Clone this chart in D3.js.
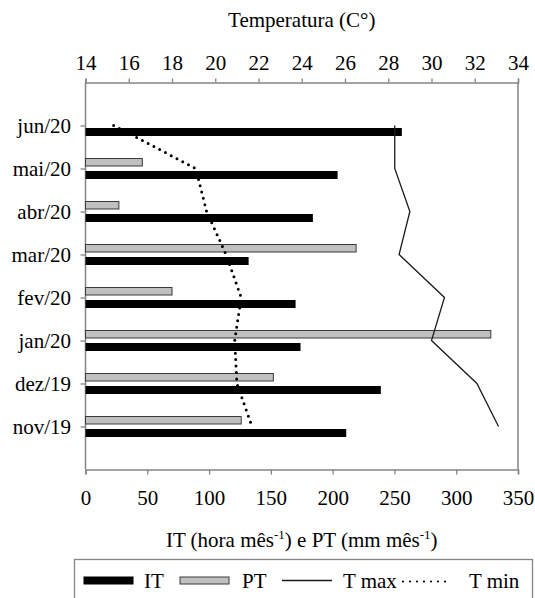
<!DOCTYPE html>
<html>
<head>
<meta charset="utf-8">
<script src="https://cdn.jsdelivr.net/npm/d3@7"></script>
<style>
  html, body { margin: 0; padding: 0; background: #fff; }
</style>
</head>
<body>
<svg id="chart" width="535" height="598"></svg>
<script>
const categories = ["jun/20", "mai/20", "abr/20", "mar/20", "fev/20", "jan/20", "dez/19", "nov/19"];
const itValues   = [256, 204, 184, 132, 170, 174, 239, 211];
const ptValues   = [0, 46, 27, 219, 70, 328, 152, 126];
const tMax       = [28.3, 28.3, 29.0, 28.5, 30.6, 30.0, 32.1, 33.1];
const tMin       = [15.3, 19.1, 19.6, 20.5, 21.2, 20.9, 21.0, 21.7];
const bottomTicks = [0, 50, 100, 150, 200, 250, 300, 350];
const topTicks    = [14, 16, 18, 20, 22, 24, 26, 28, 30, 32, 34];

const svg = d3.select("#chart");
const L = 85.5, R = 518, T = 82.5, B = 469.5;
const step = (B - T) / 9;
const axisColor = "#858585";
const fs = 21;

const x  = d3.scaleLinear().domain([0, 350]).range([L, R]);
const xT = d3.scaleLinear().domain([14, 34]).range([L, R]);
const y  = d3.scalePoint().domain(categories).range([T + step, B - step]);

// frame
svg.append("line").attr("x1", R).attr("x2", R).attr("y1", T).attr("y2", B)
  .attr("stroke", axisColor).attr("stroke-width", 1.5);

function styleAxis(g, fam) {
  g.attr("font-family", fam).attr("font-size", fs);
  g.selectAll("path.domain").attr("stroke", axisColor).attr("stroke-width", 1.5);
  g.selectAll(".tick line").attr("stroke", axisColor).attr("stroke-width", 1.3);
}

const gTop = svg.append("g").attr("transform", `translate(0,${T})`)
  .call(d3.axisTop(xT).tickValues(topTicks).tickSize(4).tickSizeOuter(4).tickPadding(8.5).tickFormat(d3.format("d")));
styleAxis(gTop, "'Times New Roman'");

const gBot = svg.append("g").attr("transform", `translate(0,${B})`)
  .call(d3.axisBottom(x).tickValues(bottomTicks).tickSize(5).tickSizeOuter(5).tickPadding(15.5).tickFormat(d3.format("d")));
styleAxis(gBot, "'Tinos'");

const gLeft = svg.append("g").attr("transform", `translate(${L},0)`)
  .call(d3.axisLeft(y).tickSize(5).tickSizeOuter(0).tickPadding(9.5));
gLeft.select("path.domain").attr("d", `M0,${T}V${B}`);
styleAxis(gLeft, "'Liberation Serif'");

// PT bars (gray, above tick)
svg.append("g").selectAll("rect").data(categories).join("rect")
  .attr("x", x(0))
  .attr("y", d => y(d) - 10)
  .attr("width", (d, i) => x(ptValues[i]) - x(0))
  .attr("height", 7.5)
  .attr("fill", "#c0c0c0")
  .attr("stroke", "#3a3a3a")
  .attr("stroke-width", 1);

// IT bars (black, below tick)
svg.append("g").selectAll("rect").data(categories).join("rect")
  .attr("x", x(0))
  .attr("y", d => y(d) + 2.5)
  .attr("width", (d, i) => x(itValues[i]) - x(0))
  .attr("height", 8)
  .attr("fill", "#000");

// T max line
const line = d3.line().x(d => xT(d)).y((d, i) => y(categories[i]));
svg.append("path").datum(tMax).attr("d", line)
  .attr("fill", "none").attr("stroke", "#1a1a1a").attr("stroke-width", 1.3);

// T min dotted line
svg.append("path").datum(tMin).attr("d", line)
  .attr("fill", "none").attr("stroke", "#000").attr("stroke-width", 3)
  .attr("stroke-linecap", "round").attr("stroke-dasharray", "0 6.5");

// titles
svg.append("text").attr("x", (L + R) / 2).attr("y", 27)
  .attr("font-family", "'Liberation Serif'").attr("font-size", 21)
  .attr("text-anchor", "middle").text("Temperatura (C°)");

const bt = svg.append("text").attr("x", (L + R) / 2).attr("y", 547)
  .attr("font-family", "serif").attr("font-size", fs).attr("text-anchor", "middle");
bt.append("tspan").text("IT (hora mês");
bt.append("tspan").attr("dy", -8).attr("font-size", 13).text("-1");
bt.append("tspan").attr("dy", 8).text(") e PT (mm mês");
bt.append("tspan").attr("dy", -8).attr("font-size", 13).text("-1");
bt.append("tspan").attr("dy", 8).text(")");

// legend
const lg = svg.append("g");
lg.append("rect").attr("x", 74.5).attr("y", 559.5).attr("width", 458).attr("height", 60)
  .attr("fill", "#fff").attr("stroke", axisColor).attr("stroke-width", 1.3);
const ly = 580.5;
function legText(xp, t) {
  lg.append("text").attr("x", xp).attr("y", ly + 7.5)
    .attr("font-family", "'Liberation Serif'").attr("font-size", 21).text(t);
}
lg.append("rect").attr("x", 83.5).attr("y", ly - 4).attr("width", 50).attr("height", 8).attr("fill", "#000");
legText(144, "IT");
lg.append("rect").attr("x", 180).attr("y", ly - 3.5).attr("width", 49).attr("height", 7)
  .attr("fill", "#c0c0c0").attr("stroke", "#3a3a3a").attr("stroke-width", 1);
legText(242, "PT");
lg.append("line").attr("x1", 282).attr("x2", 332).attr("y1", ly).attr("y2", ly)
  .attr("stroke", "#1a1a1a").attr("stroke-width", 1.3);
legText(343, "T max");
lg.append("line").attr("x1", 403).attr("x2", 452).attr("y1", ly + 1).attr("y2", ly + 1)
  .attr("stroke", "#000").attr("stroke-width", 2.2).attr("stroke-linecap", "round").attr("stroke-dasharray", "0 7");
legText(469, "T min");
</script>
</body>
</html>
